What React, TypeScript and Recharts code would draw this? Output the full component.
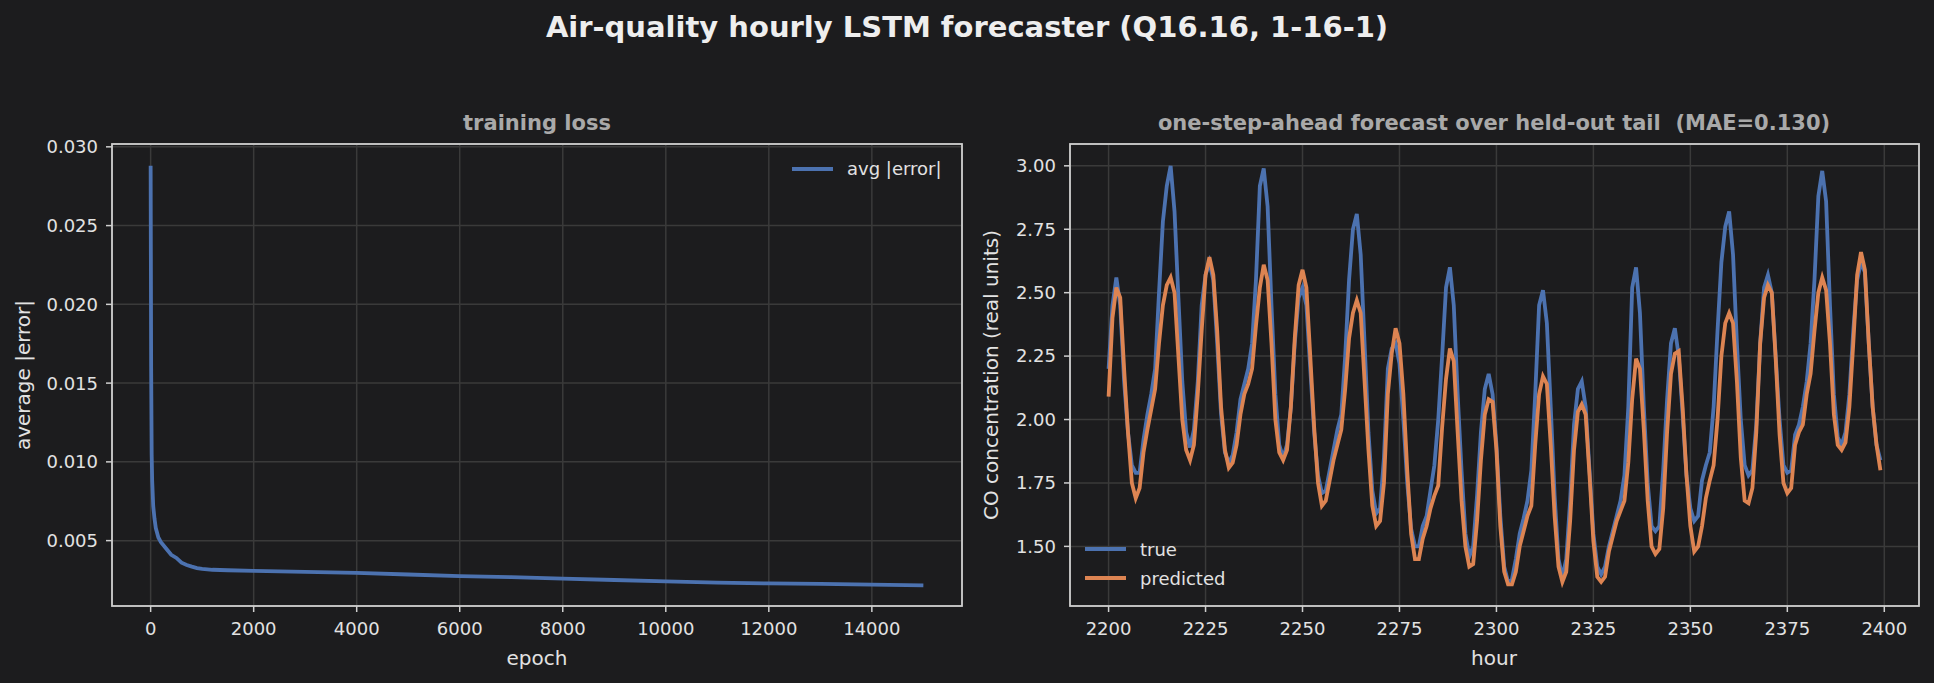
import { LineChart, Line, XAxis, YAxis, CartesianGrid } from "recharts"

// training loss curve (left panel)
const EPOCHS = [0, 10, 20, 30, 50, 75, 100, 150, 200, 300, 400, 500, 600, 700, 800, 900, 1000, 1200, 1500, 2000, 3000, 4000, 5000, 6000, 7000, 8000, 9000, 10000, 11000, 12000, 13000, 14000, 15000]
const LOSS = [0.0288, 0.016, 0.0105, 0.0088, 0.0072, 0.0064, 0.0058, 0.0052, 0.0049, 0.0045, 0.0041, 0.0039, 0.0036, 0.00345, 0.00335, 0.00326, 0.0032, 0.00315, 0.00312, 0.00308, 0.00302, 0.00295, 0.00285, 0.00275, 0.00268, 0.00259, 0.0025, 0.00241, 0.00234, 0.00228, 0.00225, 0.00221, 0.00216]

const LOSS_X_TICKS = [0, 2000, 4000, 6000, 8000, 10000, 12000, 14000]
const LOSS_Y_TICKS = [0.005, 0.01, 0.015, 0.02, 0.025, 0.03]

// forecast panel: hour index 2200..2399
const HOURS = Array.from({ length: 200 }, (_, i) => 2200 + i)
const TRUE_CO = [
  2.2, 2.45, 2.56, 2.45, 2.15, 1.95, 1.82, 1.79, 1.79, 1.92,
  2.02, 2.1, 2.2, 2.5, 2.78, 2.92, 3.0, 2.82, 2.48, 2.15,
  1.95, 1.89, 1.96, 2.15, 2.45, 2.57, 2.62, 2.55, 2.3, 2.02,
  1.87, 1.83, 1.86, 1.95, 2.08, 2.14, 2.2, 2.3, 2.55, 2.92,
  2.99, 2.84, 2.45, 2.1, 1.9, 1.85, 1.9, 2.05, 2.3, 2.48,
  2.52, 2.45, 2.2, 1.95, 1.78, 1.71, 1.72, 1.8, 1.88, 1.96,
  2.02, 2.25, 2.55, 2.75, 2.81, 2.65, 2.3, 1.95, 1.72, 1.63,
  1.65, 1.85, 2.2, 2.28, 2.3, 2.22, 2.0, 1.75, 1.57, 1.5,
  1.5, 1.58, 1.62, 1.72, 1.82, 2.0, 2.25, 2.52, 2.6, 2.45,
  2.1, 1.8, 1.55, 1.46, 1.5, 1.7, 1.95, 2.12, 2.18, 2.1,
  1.9, 1.62, 1.42, 1.36, 1.37, 1.45, 1.55, 1.61, 1.68, 1.8,
  2.1, 2.45, 2.51, 2.38, 2.05, 1.7, 1.45, 1.38, 1.45, 1.68,
  1.98, 2.12, 2.15, 2.05, 1.8, 1.55, 1.42, 1.39, 1.42, 1.5,
  1.56, 1.62, 1.68, 1.78, 2.05, 2.52, 2.6, 2.42, 2.05, 1.75,
  1.58, 1.56, 1.58, 1.8, 2.08, 2.3, 2.36, 2.25, 2.02, 1.78,
  1.65, 1.6, 1.62, 1.76, 1.82, 1.87, 2.05, 2.35, 2.62, 2.76,
  2.82, 2.65, 2.3, 2.0, 1.82, 1.78, 1.8, 1.98, 2.3, 2.52,
  2.57, 2.5, 2.25, 2.0, 1.82, 1.79, 1.8, 1.94, 1.98, 2.05,
  2.15, 2.3, 2.55, 2.88, 2.98, 2.86, 2.45, 2.1, 1.93, 1.9,
  1.95, 2.1, 2.35, 2.55, 2.62, 2.58, 2.3, 2.05, 1.9, 1.84,
]
const PRED_CO = [
  2.09, 2.4, 2.52, 2.48, 2.2, 1.95, 1.75, 1.69, 1.73, 1.87,
  1.96, 2.04, 2.12, 2.3, 2.45, 2.53, 2.56, 2.5, 2.25, 2.0,
  1.88, 1.84, 1.9, 2.1, 2.35, 2.57, 2.64, 2.57, 2.35, 2.05,
  1.88, 1.81, 1.83, 1.9, 2.02, 2.1, 2.14, 2.2, 2.37, 2.52,
  2.61, 2.55, 2.3, 2.0, 1.87, 1.84, 1.88, 2.05, 2.32, 2.53,
  2.59, 2.52, 2.25, 1.97, 1.75, 1.66, 1.68, 1.76, 1.84, 1.9,
  1.96, 2.12, 2.32, 2.42, 2.47, 2.42, 2.15, 1.88, 1.66, 1.58,
  1.6, 1.75, 2.1, 2.26, 2.36, 2.3, 2.1, 1.8, 1.55, 1.45,
  1.45, 1.53, 1.58, 1.65, 1.7, 1.74, 1.97, 2.16, 2.28, 2.23,
  1.95, 1.68, 1.5, 1.42, 1.43, 1.6, 1.84, 2.02, 2.08, 2.07,
  1.88, 1.58, 1.4, 1.35, 1.35, 1.4, 1.5, 1.56, 1.62, 1.66,
  1.9, 2.1, 2.17, 2.14, 1.9, 1.62, 1.42, 1.36, 1.4, 1.6,
  1.88, 2.03, 2.06, 2.02, 1.78, 1.52, 1.38, 1.36, 1.38, 1.48,
  1.54, 1.6, 1.64, 1.68, 1.83, 2.08, 2.24, 2.2, 1.96, 1.68,
  1.5, 1.47, 1.49, 1.65, 1.95, 2.18, 2.26, 2.27, 2.05, 1.78,
  1.58, 1.48, 1.5, 1.58, 1.69, 1.76, 1.82, 2.0, 2.25, 2.38,
  2.42, 2.38, 2.15, 1.85, 1.68, 1.67, 1.73, 1.95, 2.3, 2.48,
  2.53, 2.5, 2.24, 1.94, 1.75, 1.71, 1.73, 1.9, 1.95, 1.98,
  2.1, 2.18, 2.35, 2.5, 2.56, 2.51, 2.3, 2.02, 1.9, 1.88,
  1.91, 2.05, 2.3, 2.57, 2.66, 2.59, 2.3, 2.05, 1.9, 1.8,
]

const HOUR_TICKS = [2200, 2225, 2250, 2275, 2300, 2325, 2350, 2375, 2400]
const CO_TICKS = [1.5, 1.75, 2.0, 2.25, 2.5, 2.75, 3.0]

const BG = "#1c1c1e"
const GRID = "#3a3a3a"
const SPINE = "#cfcfcf"
const TEXT = "#e2e2e2"
const BLUE = "#4c72b0"
const ORANGE = "#dd8452"
const FONT = "DejaVu Sans"
const LW = 3.8

const lossData = EPOCHS.map((e, i) => ({ epoch: e, loss: LOSS[i] }))
const coData = HOURS.map((h, i) => ({ hour: h, actual: TRUE_CO[i], predicted: PRED_CO[i] }))

const tickStyle = { fill: TEXT, fontSize: 18, fontFamily: FONT }

export default function App() {
  return (
    <div style={{ position: "fixed", left: 0, top: 0, width: 1934, height: 683, background: BG, fontFamily: FONT, overflow: "hidden" }}>
      <div style={{ position: "absolute", left: 0, top: 0 }}>
        <LineChart width={980} height={683} data={lossData} margin={{ top: 144, right: 18, bottom: 47, left: 52 }}>
          <CartesianGrid stroke={GRID} strokeWidth={1.5} />
          <XAxis
            dataKey="epoch"
            type="number"
            domain={[-750, 15750]}
            ticks={LOSS_X_TICKS}
            interval={0}
            allowDataOverflow
            height={30}
            axisLine={false}
            tickLine={{ stroke: SPINE, strokeWidth: 1.5 }}
            tickSize={6}
            tickMargin={10}
            tick={tickStyle}
          />
          <YAxis
            type="number"
            domain={[0.00085, 0.03018]}
            ticks={LOSS_Y_TICKS}
            interval={0}
            allowDataOverflow
            width={60}
            axisLine={false}
            tickLine={{ stroke: SPINE, strokeWidth: 1.5 }}
            tickSize={6}
            tickMargin={8}
            tick={tickStyle}
            tickFormatter={(v: number) => v.toFixed(3)}
          />
          <Line dataKey="loss" type="linear" stroke={BLUE} strokeWidth={LW} dot={false} isAnimationActive={false} />
        </LineChart>
      </div>
      <div style={{ position: "absolute", left: 980, top: 0 }}>
        <LineChart width={954} height={683} data={coData} margin={{ top: 144, right: 15, bottom: 47, left: 30 }}>
          <CartesianGrid stroke={GRID} strokeWidth={1.5} />
          <XAxis
            dataKey="hour"
            type="number"
            domain={[2190.05, 2408.95]}
            ticks={HOUR_TICKS}
            interval={0}
            allowDataOverflow
            height={30}
            axisLine={false}
            tickLine={{ stroke: SPINE, strokeWidth: 1.5 }}
            tickSize={6}
            tickMargin={10}
            tick={tickStyle}
          />
          <YAxis
            type="number"
            domain={[1.265, 3.086]}
            ticks={CO_TICKS}
            interval={0}
            allowDataOverflow
            width={60}
            axisLine={false}
            tickLine={{ stroke: SPINE, strokeWidth: 1.5 }}
            tickSize={6}
            tickMargin={8}
            tick={tickStyle}
            tickFormatter={(v: number) => v.toFixed(2)}
          />
          <Line dataKey="actual" name="true" type="linear" stroke={BLUE} strokeWidth={LW} dot={false} isAnimationActive={false} />
          <Line dataKey="predicted" name="predicted" type="linear" stroke={ORANGE} strokeWidth={LW} dot={false} isAnimationActive={false} />
        </LineChart>
      </div>
      <svg width={1934} height={683} style={{ position: "absolute", left: 0, top: 0, pointerEvents: "none" }} fontFamily={FONT}>
        <text x={967} y={37} textAnchor="middle" fontSize={29} fontWeight="bold" fill="#eeeeee">
          Air-quality hourly LSTM forecaster (Q16.16, 1-16-1)
        </text>

        {/* left panel */}
        <rect x={112} y={144} width={850} height={462} fill="none" stroke={SPINE} strokeWidth={1.8} />
        <text x={537} y={130} textAnchor="middle" fontSize={21} fontWeight="bold" fill="#a9a9a9">training loss</text>
        <text x={537} y={665} textAnchor="middle" fontSize={20} fill={TEXT}>epoch</text>
        <text x={30} y={375} textAnchor="middle" fontSize={20} fill={TEXT} transform="rotate(-90 30 375)">average |error|</text>
        <line x1={792} y1={169} x2={833} y2={169} stroke={BLUE} strokeWidth={LW} />
        <text x={847} y={175} fontSize={18} fill={TEXT}>avg |error|</text>

        {/* right panel */}
        <rect x={1070} y={144} width={849} height={462} fill="none" stroke={SPINE} strokeWidth={1.8} />
        <text x={1494} y={130} textAnchor="middle" fontSize={21} fontWeight="bold" fill="#a9a9a9">
          one-step-ahead forecast over held-out tail{"\u00a0\u00a0"}(MAE=0.130)
        </text>
        <text x={1494} y={665} textAnchor="middle" fontSize={20} fill={TEXT}>hour</text>
        <text x={998} y={375} textAnchor="middle" fontSize={20} fill={TEXT} transform="rotate(-90 998 375)">CO concentration (real units)</text>
        <line x1={1085} y1={549} x2={1126} y2={549} stroke={BLUE} strokeWidth={LW} />
        <text x={1140} y={556} fontSize={18} fill={TEXT}>true</text>
        <line x1={1085} y1={578} x2={1126} y2={578} stroke={ORANGE} strokeWidth={LW} />
        <text x={1140} y={585} fontSize={18} fill={TEXT}>predicted</text>
      </svg>
    </div>
  )
}
